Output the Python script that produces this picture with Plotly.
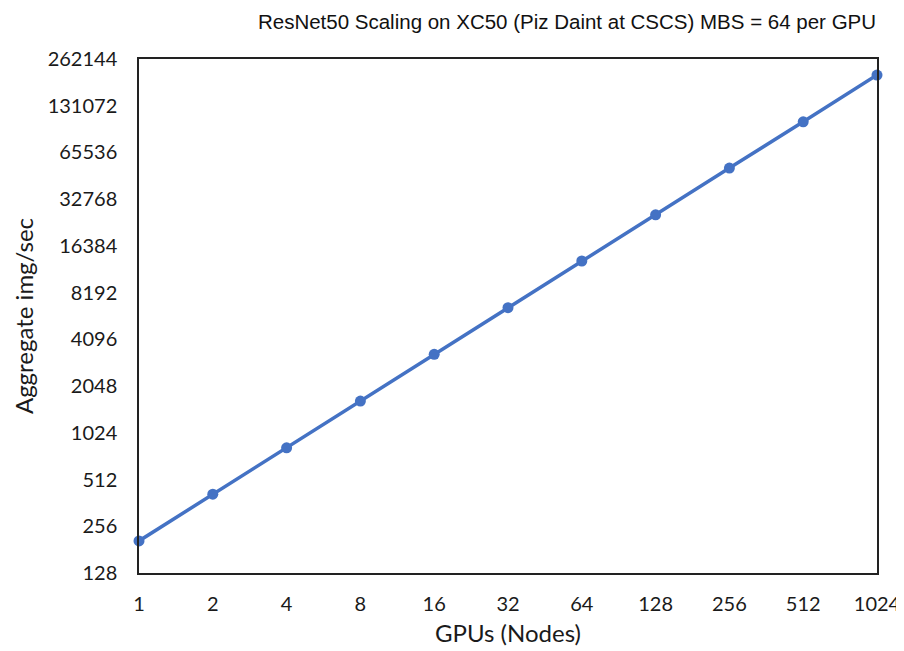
import plotly.graph_objects as go

gpus = [1, 2, 4, 8, 16, 32, 64, 128, 256, 512, 1024]
img_per_sec = [206, 412, 820, 1640, 3280, 6550, 13100, 26000, 52000, 103300, 206600]
x_ticks = [1, 2, 4, 8, 16, 32, 64, 128, 256, 512, 1024]
y_ticks = [128, 256, 512, 1024, 2048, 4096, 8192, 16384, 32768, 65536, 131072, 262144]

# page body has an 8px default margin, so the figure is sized/offset to compensate
W, H = 896, 643

fig = go.Figure()
fig.add_trace(go.Scatter(
    x=gpus, y=img_per_sec, mode="lines+markers",
    line=dict(color="#4472C4", width=3.5),
    marker=dict(color="#4472C4", size=11),
    showlegend=False, cliponaxis=False,
))

fig.update_layout(
    width=W, height=H,
    margin=dict(l=131, r=27, t=51, b=78),
    paper_bgcolor="white", plot_bgcolor="white",
    title=dict(text="ResNet50 Scaling on XC50 (Piz Daint at CSCS) MBS = 64 per GPU",
               x=559 / W, xref="container", xanchor="center",
               y=1 - 14 / H, yref="container", yanchor="middle",
               font=dict(family="Liberation Sans", size=20.5, color="#111111")),
    font=dict(family="Lato", color="#1a1a1a"),
)

fig.update_xaxes(
    type="log", range=[0, 3.0103], automargin=False,
    tickvals=x_ticks, ticktext=[str(v) for v in x_ticks],
    tickfont=dict(size=20, color="#1a1a1a"),
    ticks="outside", ticklen=12, tickcolor="rgba(0,0,0,0)",
    showgrid=False, zeroline=False,
    showline=True, mirror=True, linecolor="#222222", linewidth=1.5,
    title=dict(text="GPUs (Nodes)", font=dict(size=24, color="#1a1a1a"), standoff=11),
)
fig.update_yaxes(
    type="log", range=[2.10721, 5.41854], automargin=False,
    tickvals=y_ticks, ticktext=[str(v) for v in y_ticks],
    tickfont=dict(size=20, color="#1a1a1a"),
    ticks="outside", ticklen=16, tickcolor="rgba(0,0,0,0)",
    showgrid=False, zeroline=False,
    showline=True, mirror=True, linecolor="#222222", linewidth=1.5,
    title=dict(text="Aggregate img/sec", font=dict(size=24, color="#1a1a1a"), standoff=7),
)

fig.write_html("out.html")
